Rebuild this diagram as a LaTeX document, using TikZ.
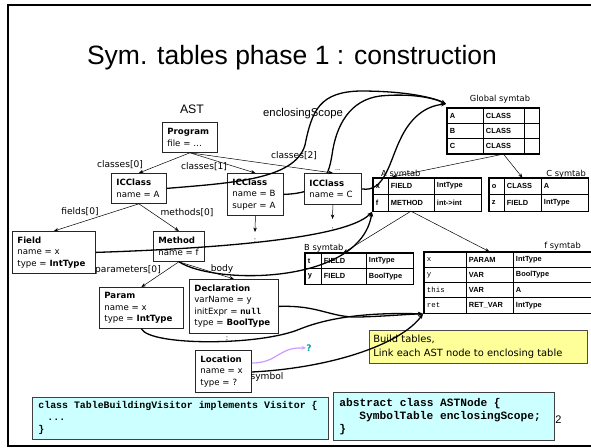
\documentclass[tikz,border=0pt]{standalone}
\usepackage{fontspec}
\setmainfont{Liberation Sans}
\setmonofont{Liberation Mono}
\newfontfamily\tah{DejaVu Sans}
\usetikzlibrary{arrows.meta,matrix,calc}
\definecolor{codebg}{HTML}{CCFFFF}
\definecolor{notebg}{HTML}{FFFF99}
\definecolor{purp}{HTML}{CC99FF}
\definecolor{qteal}{HTML}{009999}
\newcommand\natsp{\spaceskip=\fontdimen2\font\relax}
\tikzset{
 astbox/.style={draw=black!85, line width=0.8pt, fill=white, anchor=north west, align=left,
   inner xsep=5pt, inner ysep=2pt, font=\tah\fontsize{8.6}{11.5}\selectfont},
 lbl/.style={font=\tah\fontsize{9.1}{10}\selectfont, inner sep=0pt},
 ttl/.style={font=\tah\fontsize{8.3}{10}\selectfont, inner sep=0pt},
 edge/.style={line width=0.5pt, -{Stealth[length=4.5pt,width=3.5pt]}},
 enc/.style={line width=1.3pt, -{Stealth[length=5pt,width=4pt]}},
 tbl/.style={matrix of nodes, anchor=north west, inner sep=0pt, draw, line width=1.4pt,
   column sep=-0.5pt, row sep=-0.5pt, nodes in empty cells,
   nodes={draw, line width=0.5pt, inner xsep=3pt, inner ysep=0pt, align=left,
     font=\fontsize{7.4}{8}\selectfont\bfseries, anchor=center}},
 codebox/.style={draw=black!75, line width=0.8pt, fill=codebg, anchor=north west, align=left,
   inner sep=0pt},
 vdots/.style={font=\tah\fontsize{7}{7}\selectfont, inner sep=0pt},
}
\begin{document}
\begin{tikzpicture}[x=1pt,y=-1pt]
\useasboundingbox (0,0) rectangle (591,447);
\draw[line width=2pt] (595,5) -- (7.5,5) -- (7.5,446) -- (595,446);

\node[font=\fontsize{26.5}{30}\selectfont] (title) at (292,58) {Sym. tables phase 1 : construction};
\node[font=\fontsize{12.3}{14}\selectfont, inner sep=0pt] (astlbl) at (192,109) {AST};
\node[font=\fontsize{11.3}{13}\selectfont, inner sep=0pt, anchor=west] (enclbl) at (263,114) {enclosingScope};

% symbol tables
\node[ttl] (gttl) at (500,99) {Global symtab};
\matrix (gtab) [tbl, nodes={minimum height=15.3pt},
  column 1/.style={nodes={text width=30pt}}, column 2/.style={nodes={text width=35pt}},
  column 3/.style={nodes={text width=9pt}}] at (446,107) {
  A & CLASS & \\ B & CLASS & \\ C & CLASS & \\ };

\node[ttl, anchor=base west] (attl) at (381,176) {A symtab};
\matrix (atab) [tbl, nodes={minimum height=16.5pt},
  column 1/.style={nodes={text width=9pt}}, column 2/.style={nodes={text width=40pt}},
  column 3/.style={nodes={text width=41pt}}] at (372,177) {
  x & FIELD & IntType \\ f & METHOD & int->int \\ };

\node[ttl, anchor=base east] (cttl) at (586,176) {C symtab};
\matrix (ctab) [tbl, nodes={minimum height=16.5pt},
  column 1/.style={nodes={text width=9pt}}, column 2/.style={nodes={text width=31pt}},
  column 3/.style={nodes={text width=41pt}}] at (488,177) {
  o & CLASS & A \\ z & FIELD & IntType \\ };

\node[ttl, anchor=base west] (bttl) at (304,250) {B symtab};
\matrix (btab) [tbl, nodes={minimum height=15.5pt},
  column 1/.style={nodes={text width=10pt}}, column 2/.style={nodes={text width=39pt}},
  column 3/.style={nodes={text width=41pt}}] at (304,252) {
  t & FIELD & IntType \\ y & FIELD & BoolType \\ };

\node[ttl, anchor=base east] (fttl) at (581,248) {f symtab};
\matrix (ftab) [tbl, nodes={minimum height=15.25pt},
  column 1/.style={nodes={text width=36pt, font=\ttfamily\mdseries\fontsize{7.4}{8}\selectfont}},
  column 2/.style={nodes={text width=41pt}},
  column 3/.style={nodes={text width=72pt}}] at (423,251) {
  x & PARAM & IntType \\ y & VAR & BoolType \\ this & VAR & A \\ ret & RET\_VAR & IntType \\ };

\draw[edge] (gtab-3-2.south) -- ($(atab.north west)+(20,0)$);
\draw[edge] (gtab-3-2.south) -- (ctab-1-2.north);
\draw[edge] (atab-2-2.south) -- (btab-1-2.north);
\draw[edge] (atab-2-2.south) -- (ftab-1-2.north);

% AST nodes
\node[astbox, text width=45pt, minimum height=30pt] (prog) at (162,122) {\textbf{Program}\\file = \ldots};
\node[astbox, text width=45pt, minimum height=30pt] (ca) at (111,173) {\textbf{ICClass}\\name = A};
\node[astbox, text width=46pt, minimum height=42pt] (cb) at (227,173) {\textbf{ICClass}\\name = B\\super = A};

\draw[enc] (cb.east) .. controls (320,193) and (328,180) .. (332,155)
   .. controls (336,125) and (350,100) .. (380,96) .. controls (410,93) and (435,98) .. ($(gtab.north west)+(0,-3)$);

\node[astbox, text width=47pt, minimum height=31pt] (cc) at (304,173) {\textbf{ICClass}\\name = C};
\node[font=\tah\fontsize{6}{6}\selectfont, inner sep=0pt] (cdots) at (338,170) {...};

\node[astbox, text width=73pt, minimum height=42pt] (field) at (12,231) {\textbf{Field}\\name = x\\type = \textbf{IntType}};
\node[astbox, text width=41pt, minimum height=30pt] (meth) at (153,231) {\textbf{Method}\\name = f};
\node[astbox, text width=74pt, minimum height=41pt] (param) at (99,287) {\textbf{Param}\\name = x\\type = \textbf{IntType}};
\node[astbox, text width=79pt, minimum height=54pt] (decl) at (189,279) {\textbf{Declaration}\\varName = y\\initExpr = {\ttfamily\bfseries null}\\type = \textbf{BoolType}};
\node[astbox, text width=46pt, minimum height=42pt] (loc) at (195,350) {\textbf{Location}\\name = x\\type = ?};

% AST edges and labels
\draw[edge] (prog.south) -- (ca.north);
\draw[edge] (prog.south) -- (cb.north);
\draw[edge] (prog.south) -- (cc.north);
\draw[edge] (ca.south) -- (field.north);
\draw[edge] (ca.south) -- (meth.north);
\draw[edge] (meth.south) -- (param.north);
\draw[edge] (meth.south) -- (decl.north);
\coordinate (bend) at (255,232);
\coordinate (cend) at (332.5,219);
\draw[edge] (cb.south) -- (bend);
\draw[edge] (cc.south) -- (cend);
\node[vdots] (bdots) at (255,241) {:};
\node[vdots] (cdots2) at (332.5,230) {:};
\node[vdots] (ddots) at (227,339) {:};

\node[lbl] (l1) at (120,165) {classes[0]};
\node[lbl] (l2) at (204,167) {classes[1]};
\node[lbl] (l3) at (294,156) {classes[2]};
\node[lbl] (l4) at (80,212) {fields[0]};
\node[lbl] (l5) at (187,213) {methods[0]};
\node[lbl] (l6) at (128,270) {parameters[0]};
\node[lbl] (l7) at (222,269) {body};
\node[lbl] (l8) at (267,377) {symbol};

% yellow note
\node[draw=black!70, line width=0.8pt, fill=notebg, anchor=north west, minimum width=218pt,
  minimum height=33pt, text width=210pt, align=left, inner xsep=4pt, inner ysep=1pt,
  font=\tah\fontsize{9.9}{14.5}\selectfont] (note) at (369,330)
  {\natsp Build tables,\\Link each AST node to enclosing table};

% enclosingScope curves
\draw[enc] (ca.east) .. controls (230,183) and (295,180) .. (305,145)
   .. controls (312,110) and (320,92) .. (360,91) .. controls (400,91) and (430,96) .. ($(gtab.north west)+(0,-3)$);
\draw[enc] (cc.east) .. controls (385,193) and (390,160) .. (400,140)
   .. controls (410,118) and (425,106) .. ($(gtab.north west)+(0,-3)$);
\draw[enc] (field.east) .. controls (200,249) and (345,240) .. (atab.south west);
\draw[enc] (meth.south) .. controls (215,285) and (360,285) .. (atab.south west);
\draw[enc] (decl.east) .. controls (320,305) and (330,318) .. (360,317)
   .. controls (390,316) and (410,314) .. (ftab.south west);
\draw[enc] (param.south) .. controls (150,346) and (260,346) .. (300,329)
   .. controls (340,313) and (390,313) .. (ftab.south west);
\draw[enc] (loc.east |- 0,372) .. controls (330,368) and (400,345) .. (ftab.south west);

% purple symbol pointer
\node[font=\tah\bfseries\fontsize{9}{10}\selectfont, text=qteal, inner sep=0pt] (qm) at (309,348) {?};
\draw[purp, line width=1.2pt, -{Stealth[length=4.5pt,width=3.5pt]}] (loc.east |- 0,363)
   .. controls (278,363) and (278,347) .. (qm.west);

% code boxes
\node[anchor=base west, font=\fontsize{11}{12}\selectfont, inner sep=0pt] (pnum) at (549,423) {32};
\node[codebox, minimum width=294pt, minimum height=42pt, text width=284pt, inner xsep=6pt,
  font=\ttfamily\bfseries\fontsize{9.9}{12}\selectfont] (code1) at (32,397)
  {\natsp class TableBuildingVisitor implements Visitor \{\\\hspace*{9pt}...\\\}};
\node[codebox, minimum width=221pt, minimum height=48pt, text width=209pt, inner xsep=6pt,
  font=\ttfamily\bfseries\fontsize{11.2}{13}\selectfont] (code2) at (333,392)
  {\natsp abstract class ASTNode \{\\\hspace*{20pt}SymbolTable enclosingScope;\\\}};
\end{tikzpicture}
\end{document}
